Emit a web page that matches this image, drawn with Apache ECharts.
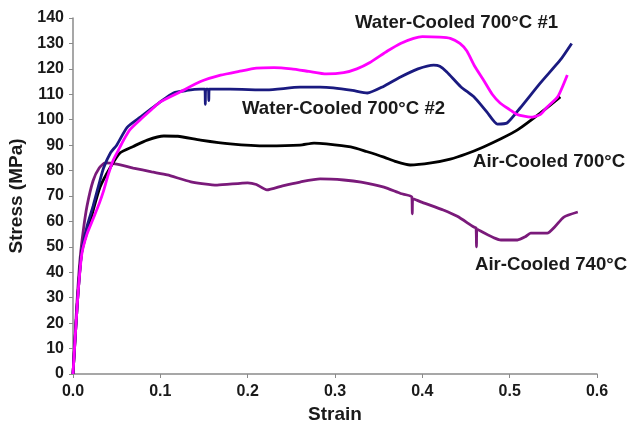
<!DOCTYPE html>
<html>
<head>
<meta charset="utf-8">
<script src="https://cdn.jsdelivr.net/npm/echarts@6/dist/echarts.min.js"></script>
<style>
  html, body { margin: 0; padding: 0; background: #fff; }
  #main { width: 630px; height: 425px; }
</style>
</head>
<body>
<div id="main"></div>
<script>
    // strain / stress
    var wc1Strain = [0, 0.005, 0.010, 0.016, 0.023, 0.030, 0.035, 0.040, 0.046, 0.052, 0.058, 0.065, 0.077, 0.090, 0.100, 0.123, 0.146, 0.169, 0.190, 0.210, 0.230, 0.250, 0.270, 0.290, 0.310, 0.325, 0.340, 0.360, 0.375, 0.390, 0.400, 0.420, 0.432, 0.443, 0.451, 0.460, 0.470, 0.480, 0.489, 0.500, 0.509, 0.524, 0.535, 0.543, 0.555, 0.566];
    var wc1Stress = [0, 28, 47, 55, 61, 67, 72, 78, 84, 88, 92, 96, 100, 104, 107, 111, 115, 117.5, 119, 120.3, 120.5, 120, 119, 118, 118.5, 120, 122.5, 127, 130, 132, 132.7, 132.5, 132, 130, 127, 121, 115.6, 110, 106.6, 104, 102, 101, 102, 105, 109, 117.6];

    var wc2Strain = [0, 0.005, 0.010, 0.016, 0.023, 0.030, 0.035, 0.043, 0.050, 0.062, 0.077, 0.100, 0.115, 0.130, 0.146, 0.151, 0.1515, 0.152, 0.155, 0.1555, 0.156, 0.180, 0.222, 0.260, 0.283, 0.298, 0.320, 0.337, 0.355, 0.375, 0.395, 0.413, 0.420, 0.428, 0.444, 0.459, 0.474, 0.486, 0.497, 0.512, 0.535, 0.558, 0.571];
    var wc2Stress = [0, 28, 48, 58, 66, 75, 81, 87, 90, 97, 101, 107, 110.5, 111.5, 112, 112, 106, 112, 112, 107.5, 112, 112, 111.7, 112.8, 112.8, 112.5, 111.5, 110.5, 113, 116.8, 120, 121.5, 121, 118.8, 113, 109, 103, 98.3, 98.7, 104.6, 114.4, 123.5, 130];

    var ac700Strain = [0, 0.005, 0.010, 0.020, 0.031, 0.043, 0.054, 0.069, 0.085, 0.104, 0.120, 0.146, 0.180, 0.222, 0.260, 0.276, 0.290, 0.318, 0.336, 0.356, 0.370, 0.386, 0.410, 0.432, 0.450, 0.470, 0.490, 0.509, 0.535, 0.558];
    var ac700Stress = [0, 28, 48, 60.5, 73.5, 81.4, 87, 89.5, 92, 93.6, 93.5, 92, 90.5, 89.7, 90, 90.8, 90.5, 89.3, 87.5, 85.3, 83.5, 82.2, 83, 84.5, 86.5, 89.3, 92.5, 96, 102.6, 109];

    var ac740Strain = [0, 0.004, 0.008, 0.012, 0.016, 0.023, 0.030, 0.037, 0.050, 0.069, 0.090, 0.108, 0.135, 0.165, 0.200, 0.210, 0.222, 0.240, 0.260, 0.283, 0.310, 0.330, 0.356, 0.375, 0.388, 0.3885, 0.389, 0.400, 0.424, 0.440, 0.459, 0.4615, 0.462, 0.4625, 0.490, 0.509, 0.518, 0.524, 0.543, 0.552, 0.562, 0.578];
    var ac740Stress = [0, 25, 45, 57, 66, 76, 81, 83, 82.5, 81, 79.5, 78.3, 75.6, 74.3, 75.2, 74.5, 72.4, 74, 75.5, 76.7, 76.3, 75.5, 73.5, 71, 69.6, 63, 69, 67.5, 64.5, 62, 57.8, 57.5, 50, 57, 52.7, 52.7, 54, 55.4, 55.4, 58, 61.7, 63.7];

    function pairs(xs, ys) {
        var out = [];
        for (var i = 0; i < xs.length; i++) out.push([xs[i], ys[i]]);
        return out;
    }

    var font = "'Liberation Sans', Arial, sans-serif";
    var chart = echarts.init(document.getElementById('main'));

    function curve(name, color, xs, ys) {
        return {
            name: name,
            type: 'line',
            data: pairs(xs, ys),
            showSymbol: false,
            smooth: 0.2,
            lineStyle: { color: color, width: 2.8 },
            itemStyle: { color: color },
            z: 3
        };
    }

    function note(text, left, top) {
        return {
            type: 'text',
            left: left,
            top: top,
            style: {
                text: text,
                fill: '#1a1a1a',
                font: 'bold 18.6px ' + font
            }
        };
    }

    var option = {
        backgroundColor: '#fff',
        animation: false,
        grid: { left: 73, right: 33, top: 18, bottom: 51, outerBoundsMode: 'none', containLabel: false },
        xAxis: {
            type: 'value',
            min: 0,
            max: 0.6,
            interval: 0.1,
            name: 'Strain',
            nameLocation: 'middle',
            nameGap: 31,
            nameTextStyle: { color: '#1a1a1a', fontWeight: 'bold', fontSize: 19, fontFamily: font },
            axisLine: { lineStyle: { color: '#8a8a8a', width: 1.5 } },
            axisTick: { length: 4, lineStyle: { color: '#8a8a8a' } },
            axisLabel: {
                color: '#1a1a1a', fontWeight: 'bold', fontSize: 16, fontFamily: font, margin: 10,
                formatter: function (v) { return v.toFixed(1); }
            },
            splitLine: { show: false }
        },
        yAxis: {
            type: 'value',
            min: 0,
            max: 140,
            interval: 10,
            name: 'Stress (MPa)',
            nameLocation: 'middle',
            nameGap: 46,
            nameTextStyle: { color: '#1a1a1a', fontWeight: 'bold', fontSize: 19, fontFamily: font },
            axisLine: { show: true, lineStyle: { color: '#8a8a8a', width: 1.5 } },
            axisTick: { show: true, length: 4, lineStyle: { color: '#8a8a8a' } },
            axisLabel: { color: '#1a1a1a', fontWeight: 'bold', fontSize: 16, fontFamily: font, margin: 9 },
            splitLine: { show: false }
        },
        graphic: [
            note('Water-Cooled 700°C #1', 355, 13),
            note('Water-Cooled 700°C #2', 242, 99),
            note('Air-Cooled 700°C', 473, 152),
            note('Air-Cooled 740°C', 475, 255)
        ],
        series: [
            curve('Air-Cooled 740°C', '#7a1a7a', ac740Strain, ac740Stress),
            curve('Air-Cooled 700°C', '#000000', ac700Strain, ac700Stress),
            curve('Water-Cooled 700°C #2', '#1a1a80', wc2Strain, wc2Stress),
            curve('Water-Cooled 700°C #1', '#ff00ff', wc1Strain, wc1Stress)
        ]
    };
    chart.setOption(option);
</script>
</body>
</html>
